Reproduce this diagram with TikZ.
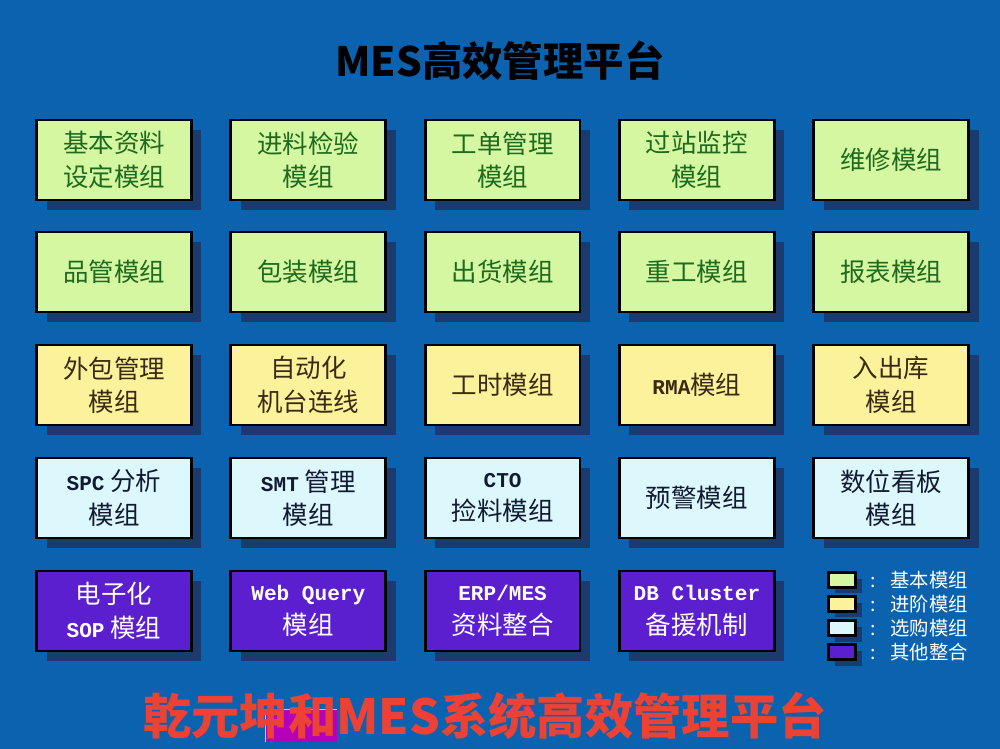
\documentclass[tikz,border=0pt]{standalone}
\usepackage{fontspec}
\setmainfont{Noto Sans CJK SC}
\newfontfamily\mono{Liberation Mono}
\usetikzlibrary{shadows,positioning}
\definecolor{bgblue}{HTML}{0B62AE}
\definecolor{shadowblue}{HTML}{1B3A6E}
\definecolor{basefill}{HTML}{D6F7A2}
\definecolor{advfill}{HTML}{FCF29C}
\definecolor{optfill}{HTML}{DDF8FC}
\definecolor{othfill}{HTML}{5B1FCF}
\definecolor{basetext}{HTML}{1E6A1E}
\definecolor{advtext}{HTML}{3B2A12}
\definecolor{opttext}{HTML}{121A33}
\definecolor{slogred}{HTML}{EC4236}
\definecolor{patchmag}{HTML}{B400B8}
\newcommand{\lat}[1]{{\mono\bfseries\fontsize{12}{19}\selectfont #1}}

\begin{document}
\begin{tikzpicture}[x=0.02cm,y=-0.02cm,
	modbox/.style={draw=black,line width=1.6pt,minimum width=3.1cm,minimum height=1.6cm,align=center,
		font=\fontsize{14.5}{19}\selectfont,
		drop shadow={shadow xshift=0.2cm,shadow yshift=-0.2cm,fill=shadowblue,opacity=1}},
	basebox/.style={modbox,fill=basefill,text=basetext},
	advbox/.style={modbox,fill=advfill,text=advtext},
	optbox/.style={modbox,fill=optfill,text=opttext},
	othbox/.style={modbox,fill=othfill,text=white},
	legbox/.style={draw=black,line width=1.2pt,minimum width=0.54cm,minimum height=0.3cm,inner sep=0pt,
		drop shadow={shadow xshift=0.12cm,shadow yshift=-0.12cm,fill=shadowblue,opacity=1}},
	legtext/.style={text=white,font=\fontsize{11}{13}\selectfont}]
	\fill[bgblue] (0,0) rectangle (1000,749);
	\node[font=\fontsize{23}{26}\selectfont\bfseries] (title) at (500,61) {MES高效管理平台};
	% module rows
	\foreach \t [count=\i] in {{基本资料\\设定模组},{进料检验\\模组},{工单管理\\模组},{过站监控\\模组},{维修模组}}
		\node[basebox] (b1\i) at ({114+194.3*(\i-1)},160) {\t};
	\foreach \t [count=\i] in {品管模组,包装模组,出货模组,重工模组,报表模组}
		\node[basebox] (b2\i) at ({114+194.3*(\i-1)},272) {\t};
	\foreach \t [count=\i] in {{外包管理\\模组},{自动化\\机台连线},工时模组,\lat{RMA}模组,{入出库\\模组}}
		\node[advbox] (b3\i) at ({114+194.3*(\i-1)},385) {\t};
	\foreach \t [count=\i] in {{\lat{SPC} 分析\\模组},{\lat{SMT} 管理\\模组},{\lat{CTO}\\捡料模组},预警模组,{数位看板\\模组}}
		\node[optbox] (b4\i) at ({114+194.3*(\i-1)},498) {\t};
	\foreach \t [count=\i] in {{电子化\\\lat{SOP} 模组},{\lat{Web Query}\\模组},{\lat{ERP/MES}\\资料整合},{\lat{DB Cluster}\\备援机制}}
		\node[othbox] (b5\i) at ({114+194.3*(\i-1)},611) {\t};
	% legend
	\foreach \f/\t [count=\i] in {basefill/基本模组,advfill/进阶模组,optfill/选购模组,othfill/其他整合}{
		\node[legbox,fill=\f] (leg\i) at (842,{580+24*(\i-1)}) {};
		\node[legtext,right=0.15cm of leg\i] (legt\i) {:\hspace{0.3cm}\t};
	}
	\fill[patchmag] (265,709) rectangle (337,742);
	\draw[white!70!magenta,line width=0.4pt] (265,742) -- (265,709) -- (337,709);
	\node[text=slogred,font=\fontsize{27.5}{30}\selectfont\bfseries] (slogan) at (485,716) {乾元坤和MES系统高效管理平台};
\end{tikzpicture}
\end{document}
